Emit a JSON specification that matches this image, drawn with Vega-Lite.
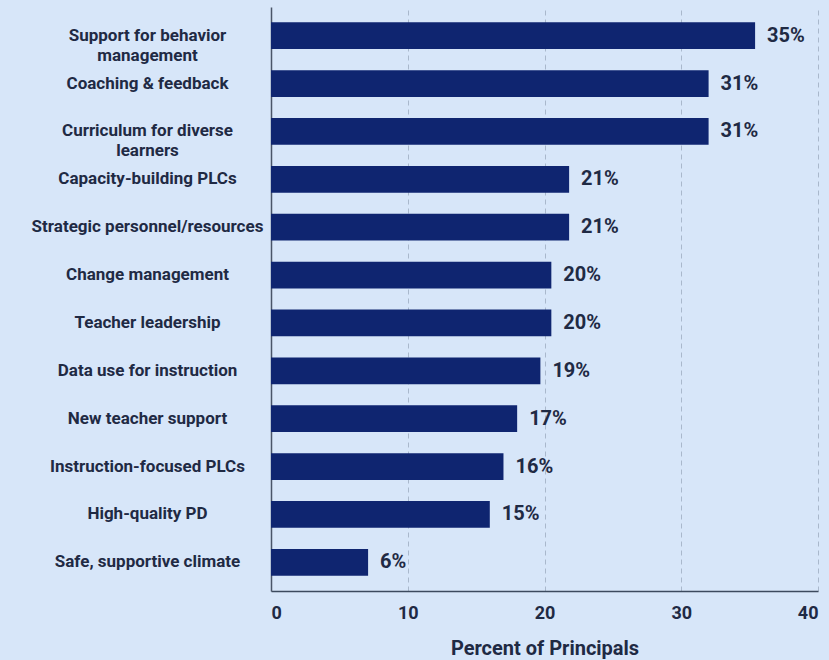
{
  "$schema": "https://vega.github.io/schema/vega-lite/v6.json",
  "width": 547,
  "height": 584,
  "autosize": "none",
  "padding": {"left": 271, "top": 7, "right": 11, "bottom": 69},
  "background": "#d7e6f9",
  "config": {
    "view": {"stroke": null},
    "font": "Roboto"
  },
  "data": {
    "values": [
      {"item": "Support for behavior management", "value": 35.4, "label": "35%"},
      {"item": "Coaching & feedback", "value": 32.0, "label": "31%"},
      {"item": "Curriculum for diverse learners", "value": 32.0, "label": "31%"},
      {"item": "Capacity-building PLCs", "value": 21.8, "label": "21%"},
      {"item": "Strategic personnel/resources", "value": 21.8, "label": "21%"},
      {"item": "Change management", "value": 20.5, "label": "20%"},
      {"item": "Teacher leadership", "value": 20.5, "label": "20%"},
      {"item": "Data use for instruction", "value": 19.7, "label": "19%"},
      {"item": "New teacher support", "value": 18.0, "label": "17%"},
      {"item": "Instruction-focused PLCs", "value": 17.0, "label": "16%"},
      {"item": "High-quality PD", "value": 16.0, "label": "15%"},
      {"item": "Safe, supportive climate", "value": 7.1, "label": "6%"}
    ]
  },
  "encoding": {
    "y": {
      "field": "item",
      "type": "nominal",
      "sort": null,
      "scale": {"paddingInner": 0.44, "paddingOuter": 0.32},
      "axis": {
        "title": null,
        "ticks": false,
        "domainColor": "#4a5568",
        "domainWidth": 1.5,
        "labelAlign": "center",
        "labelPadding": 124,
        "labelFont": "Roboto",
        "labelFontWeight": "bold",
        "labelFontSize": 17,
        "labelColor": "#1f2a44",
        "labelLineHeight": 20,
        "labelLimit": 300,
        "labelExpr": "datum.value == 'Support for behavior management' ? ['Support for behavior', 'management'] : datum.value == 'Curriculum for diverse learners' ? ['Curriculum for diverse', 'learners'] : datum.value"
      }
    },
    "x": {
      "field": "value",
      "type": "quantitative",
      "scale": {"domain": [0, 40], "nice": false},
      "axis": {
        "values": [0, 10, 20, 30, 40],
        "title": "Percent of Principals",
        "titleFont": "Roboto",
        "titleFontWeight": "bold",
        "titleFontSize": 20,
        "titleColor": "#1f2a44",
        "titlePadding": 16,
        "ticks": false,
        "domainColor": "#3c4a5e",
        "domainWidth": 1.5,
        "grid": true,
        "gridDash": [5, 4],
        "gridColor": "#a9b8cc",
        "labelFont": "Roboto",
        "labelFontWeight": "bold",
        "labelFontSize": 18,
        "labelColor": "#1f2a44",
        "labelPadding": 13
      }
    }
  },
  "layer": [
    {"mark": {"type": "bar", "color": "#0f2570"}},
    {
      "mark": {"type": "text", "align": "left", "dx": 12, "fontWeight": "bold", "fontSize": 20, "color": "#1f2a44", "font": "Roboto"},
      "encoding": {"text": {"field": "label"}}
    }
  ]
}
